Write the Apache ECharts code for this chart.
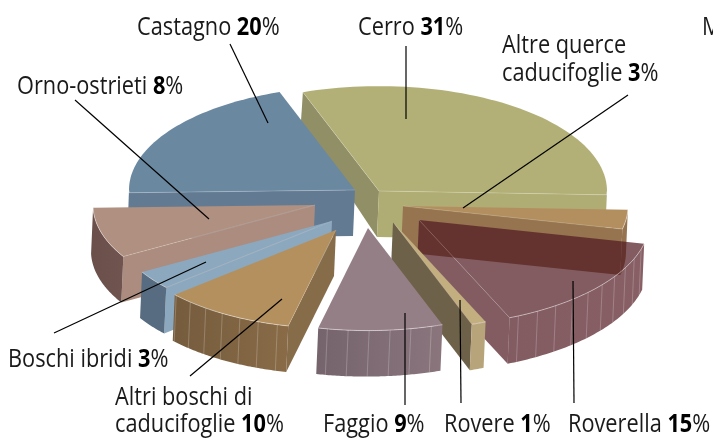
<!DOCTYPE html>
<html><head><meta charset="utf-8">
<style>html,body{margin:0;padding:0;background:#fff}#c{width:713px;height:440px}</style>
<script src="https://cdn.jsdelivr.net/npm/echarts@6/dist/echarts.min.js"></script>
</head><body><div id="c"></div>
<script>
// Data
const species = ['Cerro','Altre querce caducifoglie','Roverella','Rovere','Faggio','Altri boschi di caducifoglie','Boschi ibridi','Orno-ostrieti','Castagno'];
const shares  = [31,3,15,1,9,10,3,8,20];

// Layout (style only)
const startAngle = -109.5;
const flatten = 0.46;
const centre = [365,205];
const explode = [[14,-14],[38,1],[54,15],[28,17],[3,23],[-29,25],[-33,16],[-50,0],[-10,-15]];
const radii = [228,225,231,236,223,214,220,222,226];
const drawOrder = [0,2,4,6,8,7,6.5,5,1];
const topFill  = ['#b2b077','#b38f60','rgb(80,25,34)','#c2ae7f','#957f87','#b4905f','#8ca8be','#b09080','#6b88a1'];
const startWall= ['#918f66','#96744f','#5a2a30','#6e6149','#78676f','#876c49','#8ca8be','#ac8c7e','#637b92'];
const endWall  = ['#afad74','#96744f','rgb(80,25,34)','#6e6149','#78676f','#876c49','#8ca8be','#ac8c7e','#637b92'];
const arcWall  = [['#afad74','#afad74'],['#96744f','#96744f'],['rgb(86,30,38)','rgb(80,25,34)'],['#b8a47a','#b8a47a'],['#8a757d','#75646c'],['#896b47','#755c3d'],['#576c80','#576c80'],['#70544f','#6a4f4a'],['#637b92','#637b92']];
const ribbed = [false,false,true,false,true,true,false,false,false];
const sliceOpacity = [1,1,0.71,1,1,1,1,1,1];

const labelLines = [
  {x:137,y:28,t:['Castagno ',20]},
  {x:358,y:28,t:['Cerro ',31]},
  {x:502,y:46,t:['Altre querce']},
  {x:502,y:74,t:['caducifoglie ',3]},
  {x:17,y:87,t:['Orno-ostrieti ',8]},
  {x:8,y:360,t:['Boschi ibridi ',3]},
  {x:115,y:398,t:['Altri boschi di']},
  {x:115,y:425,t:['caducifoglie ',10]},
  {x:323,y:425,t:['Faggio ',9]},
  {x:444,y:425,t:['Rovere ',1]},
  {x:568,y:425,t:['Roverella ',15]}
];
const leaders = [
  [230,44,268,123],[406,46,406,119],[628,95,463,208],[75,100,209,219],
  [54,333,206,262],[190,376,282,299],[405,405,405,313],[461,403,460,300],[574,403,573,281]
];

const total = shares.reduce((a,b)=>a+b,0);
const rad = d => d*Math.PI/180;
const wallH = y => Math.min(46, 30 + Math.max(0,y-88)*0.16);
const down = p => [p[0]-2, p[1]+wallH(p[1])];

let acc = startAngle;
const spans = shares.map(v => { const a1=acc; acc += v/total*360; return [a1,acc]; });

function renderItem(params, api){
  const i = params.dataIndex;
  api.value(1);
  const [a1,a2] = spans[i];
  const ap = [centre[0]+explode[i][0], centre[1]+explode[i][1]];
  const R = radii[i];
  const pt = a => [ap[0]+R*Math.cos(rad(a)), ap[1]+R*flatten*Math.sin(rad(a))];
  const z = drawOrder[i]*10;
  const op = sliceOpacity[i];
  const kids = [];
  const poly = (points,fill,dz)=>kids.push({type:'polygon',z2:z+dz,shape:{points},style:{fill,opacity:op}});
  const edge = (points,dz,alpha)=>kids.push({type:'polyline',z2:z+dz,shape:{points},style:{fill:null,stroke:'rgba(255,255,255,'+alpha+')',lineWidth:1}});
  const arcPts=[]; for(let a=a1;a<=a2+1e-6;a+=Math.max(0.5,(a2-a1)/60)) arcPts.push(pt(a));
  arcPts.push(pt(a2));
  if(Math.cos(rad(a1))<0) poly([ap,pt(a1),down(pt(a1)),down(ap)],startWall[i],0);
  if(Math.cos(rad(a2))>0) poly([ap,pt(a2),down(pt(a2)),down(ap)],endWall[i],0);
  const vis = arcPts.filter(p=>p[1]>=ap[1]-0.01);
  if(vis.length>1){
    const fill = {type:'linear',x:0,y:0,x2:1,y2:0,colorStops:[{offset:0,color:arcWall[i][1]},{offset:1,color:arcWall[i][0]}]};
    poly(vis.concat(vis.map(down).reverse()),fill,1);
    if(ribbed[i]){
      for(let a=a1+3;a<a2;a+=5.4){
        const p=pt(a); if(p[1]<ap[1]) continue;
        edge([p,down(p)],2,0.22);
      }
    }
    edge(vis,4,0.45);
  }
  poly([ap].concat(arcPts),topFill[i],3);
  if(Math.cos(rad(a2))>0) edge([ap,pt(a2)],4,0.18);
  if(Math.cos(rad(a1))<0) edge([ap,pt(a1)],4,0.18);
  return {type:'group',children:kids};
}

const ch = echarts.init(document.getElementById('c'),null,{renderer:'canvas'});
const fontFamily = '"Open Sans"';
const fontSize = 25, squeeze = 0.87;
const graphics = [];
labelLines.forEach(l=>{
  const txt = l.t.length>1 ? l.t[0]+'{b|'+l.t[1]+'}%' : l.t[0];
  graphics.push({type:'text',x:l.x,y:l.y,scaleX:squeeze,z:20,silent:true,style:{
    text:txt,fill:'#1a1a1a',fontFamily,fontSize,verticalAlign:'middle',align:'left',
    rich:{b:{fontFamily,fontSize,fontWeight:'bold',fill:'#000'}}
  }});
});
graphics.push({type:'text',x:702,y:28,scaleX:squeeze,z:20,silent:true,style:{text:'M',fill:'#1a1a1a',fontFamily,fontSize,verticalAlign:'middle',align:'left'}});
leaders.forEach(s=>graphics.push({type:'line',z:19,silent:true,shape:{x1:s[0],y1:s[1],x2:s[2],y2:s[3]},style:{stroke:'#000',lineWidth:1.2}}));

ch.setOption({
  animation:false,
  backgroundColor:'#fff',
  graphic:graphics,
  series:[{type:'custom',coordinateSystem:'none',silent:true,renderItem,
    data:species.map((n,i)=>({name:n,value:[i,shares[i]]}))}]
});
</script></body></html>
